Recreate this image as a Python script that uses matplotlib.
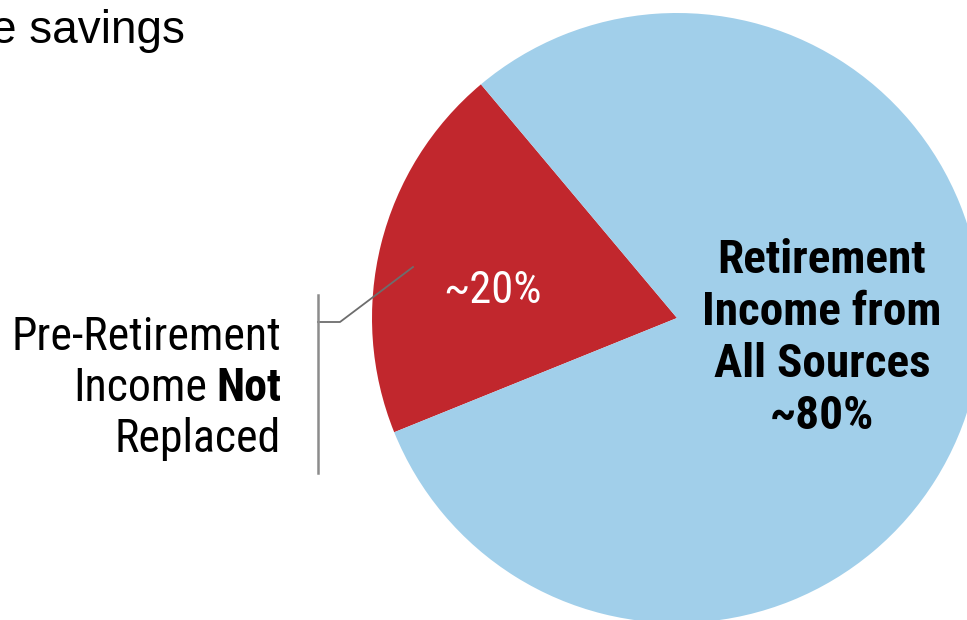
import matplotlib
matplotlib.use("Agg")
import matplotlib.pyplot as plt

# data
shares = [20, 80]
colors = ['#C1272D', '#A1CFEA']
share_labels = ['~20%', '~80%']
inner_lines = ['Retirement', 'Income from', 'All Sources', '~80%']
outer_lines = ['Pre-Retirement', 'Income', 'Replaced']

narrow = ['Roboto Condensed', 'Liberation Sans']

W, H = 967, 620
fig = plt.figure(figsize=(W / 100, H / 100), dpi=100)
ax = fig.add_axes([0, 0, 1, 1])

# pie, red slice first, starting upper-left
ax.pie(shares, colors=colors, startangle=130, counterclock=True,
       center=(677, H - 318), radius=305, frame=True,
       wedgeprops=dict(linewidth=0))
ax.set_xlim(0, W)
ax.set_ylim(0, H)
ax.set_aspect('equal')
ax.axis('off')

# partial title at the top-left
ax.text(185, H - 43, 'e savings', ha='right', va='baseline',
        fontsize=33, family='Liberation Sans', color='black')

# slice value
ax.text(492, H - 303, share_labels[0], ha='center', va='baseline',
        fontsize=32, family=narrow, color='white')

# label inside the blue slice
for i, line in enumerate(inner_lines):
    ax.text(822, H - (273 + 52 * i), line, ha='center', va='baseline',
            fontsize=34, family=narrow, fontweight='bold', color='black')

# label outside for the red slice
outer = []
for i, line in enumerate(outer_lines):
    t = ax.text(281, H - (350 + 51 * i), line, ha='right', va='baseline',
                fontsize=33, family=narrow, color='black')
    outer.append(t)

# bold "Not" at the end of the second line
fig.canvas.draw()
r = fig.canvas.get_renderer()
nt = ax.text(281, H - 401, 'Not', ha='right', va='baseline',
             fontsize=33, family=narrow, fontweight='bold', color='black')
nw = nt.get_window_extent(r).width
outer[1].set_x(281 - nw - 9)

# leader lines
ax.plot([413, 340, 318], [H - 267, H - 322, H - 322], color='#6d6d6d', lw=1.3)
ax.plot([318, 318], [H - 295, H - 473], color='#8c8c8c', lw=1.8)

fig.savefig('out.png', dpi=100)
